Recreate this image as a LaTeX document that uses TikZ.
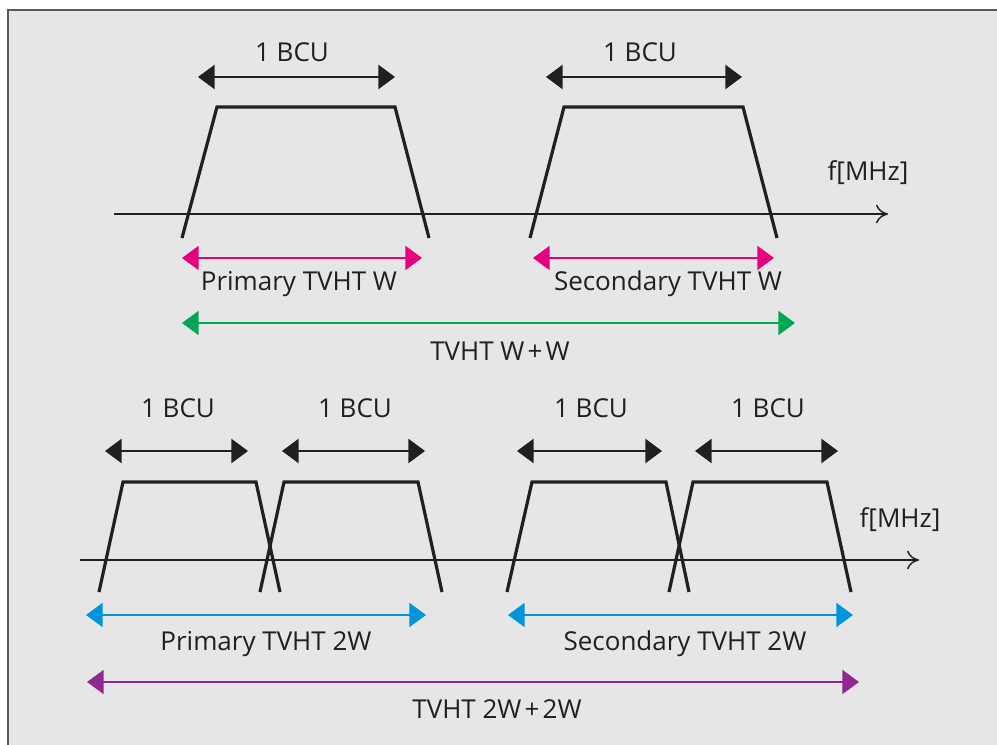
\documentclass[tikz,border=0pt]{standalone}
\usepackage{fontspec}
\setmainfont{Open Sans}
\usetikzlibrary{arrows.meta}
\definecolor{panel}{HTML}{E6E6E6}
\definecolor{ink}{HTML}{231F20}
\definecolor{pinkc}{HTML}{E6007E}
\definecolor{greenc}{HTML}{00A651}
\definecolor{bluec}{HTML}{0095DA}
\definecolor{purplec}{HTML}{92278F}
\newcommand{\spl}{\kern0.12em+\kern0.12em}
\tikzset{
  lbl/.style={inner sep=0pt, text=ink, font=\fontsize{19.5}{22}\selectfont},
  filt/.style={draw=ink, line width=2.4pt, line join=miter},
  axisline/.style={draw=ink, line width=1.1pt, -{To[length=9pt,width=14pt,line width=1.1pt]}},
  span/.style={line width=#1, {Triangle[length=12.5pt,width=18pt]}-{Triangle[length=12.5pt,width=18pt]}},
}
\begin{document}
\begin{tikzpicture}[x=0.75pt,y=-0.75pt]
\useasboundingbox (0,0) rectangle (997,745);
% panel
\fill[panel] (8,10) rectangle (997,745);
\draw[gray!70!black, line width=1pt] (8,745) -- (8,10) -- (997,10);

% ---------- upper diagram: W+W ----------
\coordinate (ax1s) at (114,214);
\coordinate (ax1e) at (888,214);
\draw[axisline] (ax1s) -- (ax1e);
\node[lbl] (fm1) at (868,173) {f[MHz]};

% channel filters
\coordinate (p1a) at (182,238); \coordinate (p1b) at (217,107);
\coordinate (p1c) at (395,107); \coordinate (p1d) at (429,238);
\draw[filt] (p1a) -- (p1b) -- (p1c) -- (p1d);
\coordinate (s1a) at (530,238); \coordinate (s1b) at (564,107);
\coordinate (s1c) at (743,107); \coordinate (s1d) at (777,238);
\draw[filt] (s1a) -- (s1b) -- (s1c) -- (s1d);

% BCU spans
\coordinate (b1l) at (198,77); \coordinate (b1r) at (395,77);
\draw[span=2pt, draw=ink, fill=ink] (b1l) -- (b1r);
\node[lbl] (t1) at (292,52) {1 BCU};
\coordinate (b2l) at (546,77); \coordinate (b2r) at (742,77);
\draw[span=2pt, draw=ink, fill=ink] (b2l) -- (b2r);
\node[lbl] (t2) at (640,52) {1 BCU};

% channel widths
\coordinate (pw1l) at (182,258); \coordinate (pw1r) at (422,258);
\draw[span=1.5pt, draw=pinkc, fill=pinkc] (pw1l) -- (pw1r);
\node[lbl] (pw1t) at (299,284) {Primary TVHT W};
\coordinate (sw1l) at (533,258); \coordinate (sw1r) at (774,258);
\draw[span=1.5pt, draw=pinkc, fill=pinkc] (sw1l) -- (sw1r);
\node[lbl] (sw1t) at (668,284) {Secondary TVHT W};

\coordinate (ww1l) at (182,323); \coordinate (ww1r) at (795,323);
\draw[span=1.5pt, draw=greenc, fill=greenc] (ww1l) -- (ww1r);
\node[lbl] (ww1t) at (500,351) {TVHT W\spl W};

% ---------- lower diagram: 2W+2W ----------
\coordinate (ax2s) at (80,560);
\coordinate (ax2e) at (919,560);
\draw[axisline] (ax2s) -- (ax2e);
\node[lbl] (fm2) at (900,520) {f[MHz]};

\coordinate (qa1) at (99,592);  \coordinate (qa2) at (123,482);
\coordinate (qa3) at (256,482); \coordinate (qa4) at (280,592);
\draw[filt] (qa1) -- (qa2) -- (qa3) -- (qa4);
\coordinate (qb1) at (260,592); \coordinate (qb2) at (284,482);
\coordinate (qb3) at (418,482); \coordinate (qb4) at (442,592);
\draw[filt] (qb1) -- (qb2) -- (qb3) -- (qb4);
\coordinate (qc1) at (507,592); \coordinate (qc2) at (532,482);
\coordinate (qc3) at (666,482); \coordinate (qc4) at (689,592);
\draw[filt] (qc1) -- (qc2) -- (qc3) -- (qc4);
\coordinate (qd1) at (669,592); \coordinate (qd2) at (693,482);
\coordinate (qd3) at (827,482); \coordinate (qd4) at (851,592);
\draw[filt] (qd1) -- (qd2) -- (qd3) -- (qd4);

\coordinate (ba1) at (105,451); \coordinate (ba2) at (248,451);
\draw[span=2pt, draw=ink, fill=ink] (ba1) -- (ba2);
\node[lbl] (ta) at (178,408) {1 BCU};
\coordinate (bb1) at (282,451); \coordinate (bb2) at (425,451);
\draw[span=2pt, draw=ink, fill=ink] (bb1) -- (bb2);
\node[lbl] (tb) at (355,408) {1 BCU};
\coordinate (bc1) at (517,451); \coordinate (bc2) at (662,451);
\draw[span=2pt, draw=ink, fill=ink] (bc1) -- (bc2);
\node[lbl] (tc) at (591,408) {1 BCU};
\coordinate (bd1) at (695,451); \coordinate (bd2) at (838,451);
\draw[span=2pt, draw=ink, fill=ink] (bd1) -- (bd2);
\node[lbl] (td) at (768,408) {1 BCU};

\coordinate (pw2l) at (86,615); \coordinate (pw2r) at (426,615);
\draw[span=1.5pt, draw=bluec, fill=bluec] (pw2l) -- (pw2r);
\node[lbl] (pw2t) at (266,644) {Primary TVHT 2W};
\coordinate (sw2l) at (508,615); \coordinate (sw2r) at (853,615);
\draw[span=1.5pt, draw=bluec, fill=bluec] (sw2l) -- (sw2r);
\node[lbl] (sw2t) at (685,644) {Secondary TVHT 2W};

\coordinate (ww2l) at (87,682); \coordinate (ww2r) at (859,682);
\draw[span=1.5pt, draw=purplec, fill=purplec] (ww2l) -- (ww2r);
\node[lbl] (ww2t) at (497,709) {TVHT 2W\spl 2W};
\end{tikzpicture}
\end{document}
